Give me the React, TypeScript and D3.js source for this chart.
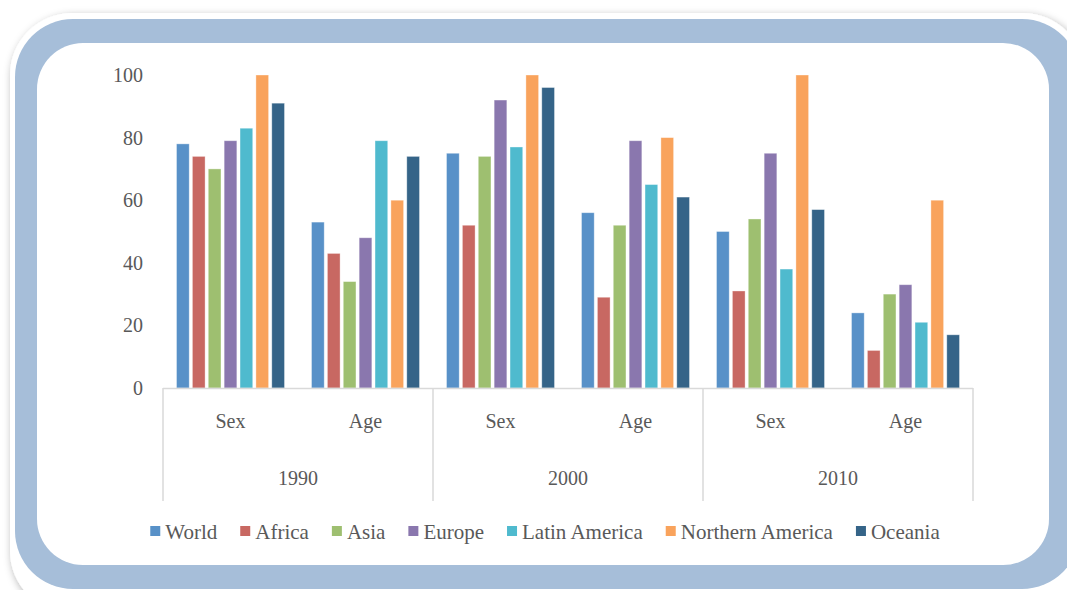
import { useEffect, useRef } from 'react';
import * as d3 from 'd3';

const years = ['1990', '2000', '2010'];
const groups = ['Sex', 'Age'];
const series = ['World', 'Africa', 'Asia', 'Europe', 'Latin America', 'Northern America', 'Oceania'];
const colors = ['#5891c8', '#c86862', '#9ebf70', '#8a77ae', '#4fbace', '#f9a35c', '#356488'];

// one row per year/group, in series order
const world = [78, 53, 75, 56, 50, 24];
const africa = [74, 43, 52, 29, 31, 12];
const asia = [70, 34, 74, 52, 54, 30];
const europe = [79, 48, 92, 79, 75, 33];
const latinAmerica = [83, 79, 77, 65, 38, 21];
const northernAmerica = [100, 60, 100, 80, 100, 60];
const oceania = [91, 74, 96, 61, 57, 17];
const yTicks = [0, 20, 40, 60, 80, 100];

const values = [world, africa, asia, europe, latinAmerica, northernAmerica, oceania];

const W = 1067;
const H = 590;

const App = () => {
  const ref = useRef<SVGSVGElement>(null);

  useEffect(() => {
    const svg = d3.select(ref.current);
    svg.selectAll('*').remove();

    const defs = svg.append('defs');
    const f = defs.append('filter').attr('id', 'sh').attr('x', '-5%').attr('y', '-5%').attr('width', '110%').attr('height', '110%');
    f.append('feDropShadow').attr('dx', 2).attr('dy', 3).attr('stdDeviation', 4).attr('flood-color', '#000').attr('flood-opacity', 0.35);

    // frame
    svg.append('rect').attr('x', 10).attr('y', 13).attr('width', 1075).attr('height', 600).attr('rx', 62).attr('fill', '#fff').attr('filter', 'url(#sh)');
    svg.append('rect').attr('x', 15).attr('y', 19).attr('width', 1065).attr('height', 570).attr('rx', 58).attr('fill', '#a6bed9');
    svg.append('rect').attr('x', 37).attr('y', 43).attr('width', 1012).attr('height', 522).attr('rx', 46).attr('fill', '#fff');

    const cats = years.flatMap(y => groups.map(g => `${y}-${g}`));
    const x0 = d3.scaleBand().domain(cats).range([163, 973]);
    const x1 = d3.scaleBand().domain(series).range([13.5, x0.bandwidth() - 13.5]).paddingInner(0.2);
    const y = d3.scaleLinear().domain([0, 100]).range([388, 75]);

    const font = 'Liberation Serif, Times New Roman, serif';
    const textColor = '#595959';

    // y labels
    svg.append('g').selectAll('text').data(yTicks).enter().append('text')
      .attr('x', 143).attr('y', d => y(d)).attr('dy', '0.35em')
      .attr('text-anchor', 'end').attr('font-family', font).attr('font-size', 20).attr('fill', textColor)
      .text(d => d);

    // bars
    const barG = svg.append('g');
    series.forEach((s, si) => {
      barG.append('g').selectAll('rect').data(values[si]).enter().append('rect')
        .attr('x', (d, i) => x0(cats[i])! + x1(s)!)
        .attr('y', d => y(d))
        .attr('width', x1.bandwidth())
        .attr('height', d => y(0) - y(d))
        .attr('fill', colors[si])
        .attr('stroke', '#fff').attr('stroke-opacity', 0.45).attr('stroke-width', 0.8);
    });

    // axis lines
    const axis = svg.append('g').attr('stroke', '#d9d9d9').attr('stroke-width', 1.5);
    axis.append('line').attr('x1', 163).attr('x2', 973).attr('y1', 388.5).attr('y2', 388.5);
    const bounds = [0, 2, 4, 6].map(i => (i < 6 ? x0(cats[i])! : 973));
    axis.selectAll('line.sep').data(bounds).enter().append('line').attr('class', 'sep')
      .attr('x1', d => d).attr('x2', d => d).attr('y1', 388).attr('y2', 501);

    // category labels
    svg.append('g').selectAll('text').data(cats).enter().append('text')
      .attr('x', d => x0(d)! + x0.bandwidth() / 2).attr('y', 428)
      .attr('text-anchor', 'middle').attr('font-family', font).attr('font-size', 20).attr('fill', textColor)
      .text(d => d.split('-')[1]);
    svg.append('g').selectAll('text').data(years).enter().append('text')
      .attr('x', (d, i) => (bounds[i] + bounds[i + 1]) / 2).attr('y', 485)
      .attr('text-anchor', 'middle').attr('font-family', font).attr('font-size', 20).attr('fill', textColor)
      .text(d => d);

    // legend
    const leg = svg.append('g');
    const items = series.map((s, i) => {
      const g = leg.append('g');
      g.append('rect').attr('x', 0).attr('y', -6).attr('width', 10).attr('height', 10).attr('fill', colors[i]);
      const t = g.append('text').attr('x', 15).attr('y', 0).attr('dy', '0.35em')
        .attr('font-family', font).attr('font-size', 21).attr('fill', textColor).text(s);
      return { g, w: 15 + (t.node() as SVGTextElement).getComputedTextLength() };
    });
    const gap = 23;
    const total = d3.sum(items, d => d.w) + gap * (items.length - 1);
    let cx = 545 - total / 2;
    items.forEach(it => {
      it.g.attr('transform', `translate(${cx},532)`);
      cx += it.w + gap;
    });
  }, []);

  return <svg ref={ref} width={W} height={H} style={{ position: 'absolute', left: 0, top: 0 }} />;
};

export default App;
